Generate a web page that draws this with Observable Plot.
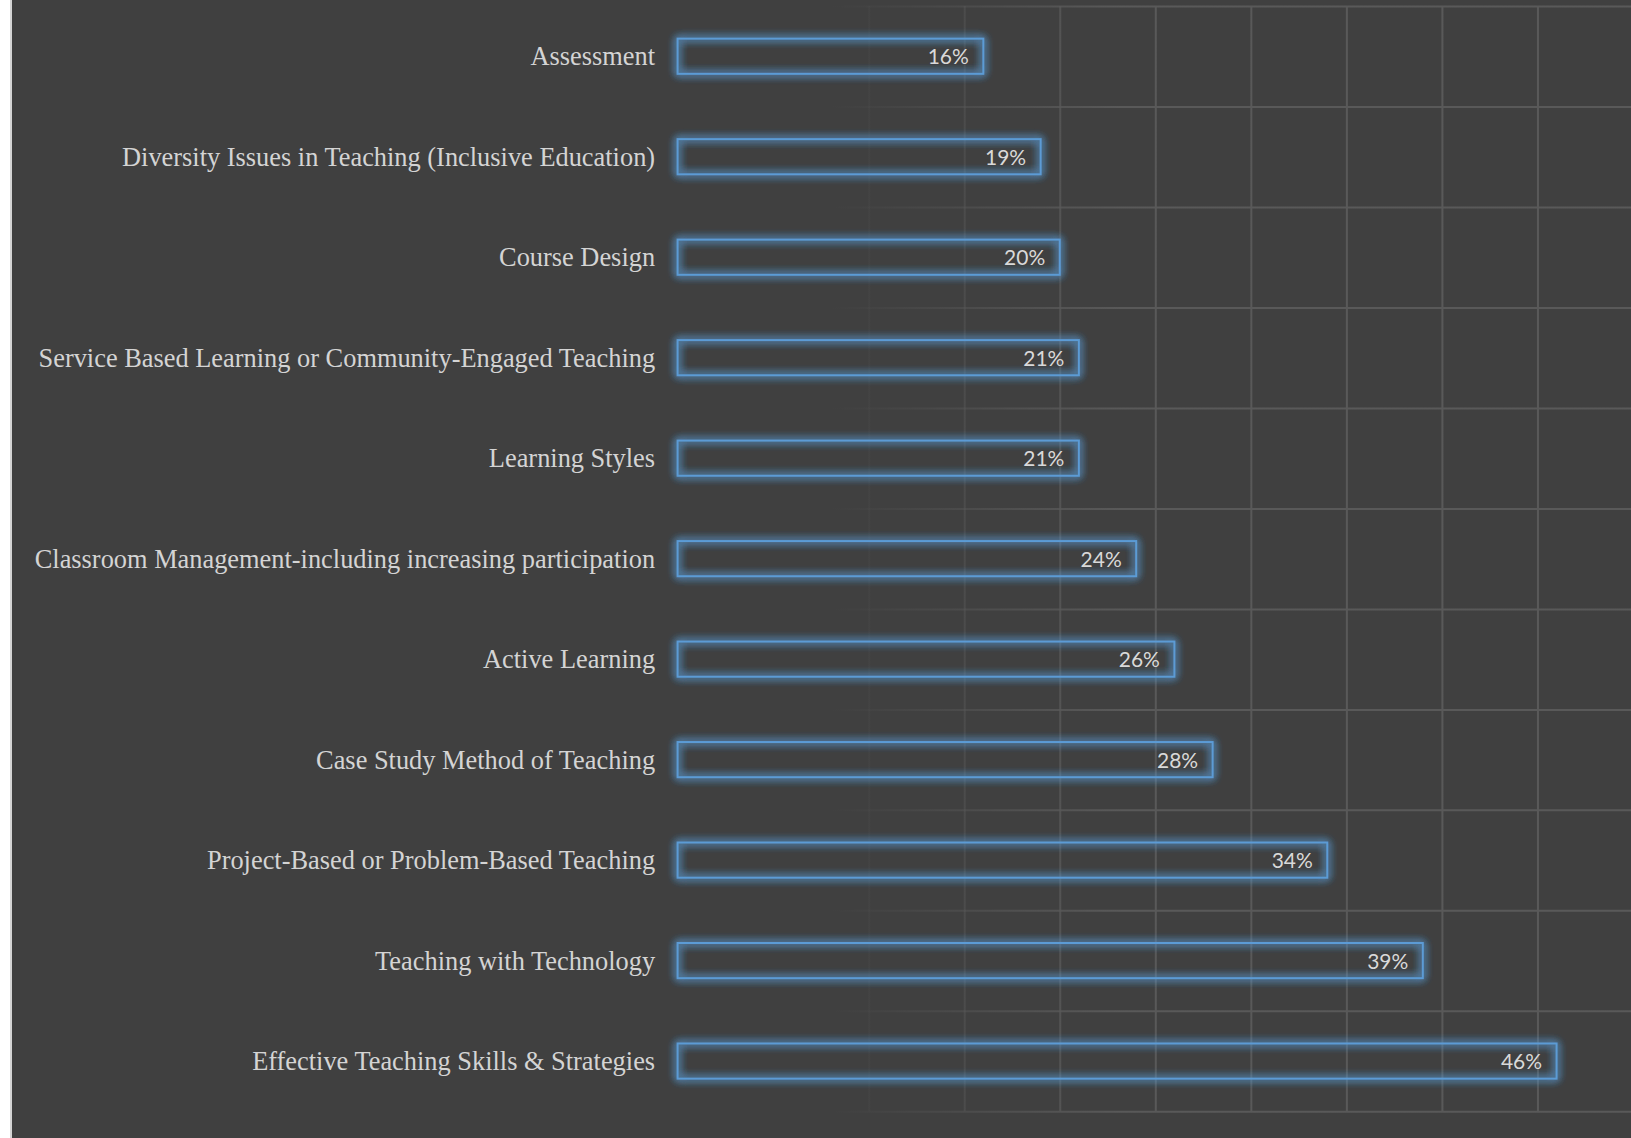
<!DOCTYPE html>
<html><head><meta charset="utf-8">
<script src="https://cdn.jsdelivr.net/npm/d3@7"></script>
<script src="https://cdn.jsdelivr.net/npm/@observablehq/plot@0.6"></script>
<style>
html,body{margin:0;padding:0;background:#fff;overflow:hidden;width:1631px;height:1138px;}
#wrap{position:absolute;left:10px;top:0;border-left:2px solid #d4d4d4;background:#404040;width:1621px;height:1138px;overflow:hidden;}
</style></head><body><div id="wrap"></div>
<script>
const topics = [
  "Assessment",
  "Diversity Issues in Teaching (Inclusive Education)",
  "Course Design",
  "Service Based Learning or Community-Engaged Teaching",
  "Learning Styles",
  "Classroom Management-including increasing participation",
  "Active Learning",
  "Case Study Method of Teaching",
  "Project-Based or Problem-Based Teaching",
  "Teaching with Technology",
  "Effective Teaching Skills & Strategies"
];
const shares = [16, 19, 20, 21, 21, 24, 26, 28, 34, 39, 46];
const xTicks = [0, 5, 10, 15, 20, 25, 30, 35, 40, 45, 50];

const data = topics.map((t, i) => ({topic: t, share: shares[i]}));
const W = 1622, H = 1138, mT = 6, mB = 26, mL = 666;
const step = (H - mT - mB) / topics.length;
const gridStyle = {stroke: "url(#fade)", strokeOpacity: 1, strokeWidth: 2};

const chart = Plot.plot({
  width: W, height: H,
  marginLeft: mL, marginRight: 0, marginTop: mT, marginBottom: mB,
  style: {background: "#404040", color: "#d4d4d4", overflow: "hidden"},
  x: {domain: [0, 50], axis: null},
  y: {domain: topics, paddingInner: 0.65, paddingOuter: 0.325, round: false, axis: null, label: null},
  marks: [
    Plot.gridX(xTicks, gridStyle),
    Plot.ruleY(topics, {y: d => d, dy: step / 2, ...gridStyle}),
    Plot.ruleY([topics[0]], {y: d => d, dy: -step / 2, ...gridStyle}),
    Plot.axisY({tickSize: 0, tickPadding: 23, fontSize: 26.4, fontFamily: "Liberation Serif", fill: "#d4d4d4", label: null}),
    Plot.barX(data, {x: "share", y: "topic", fill: "none", stroke: "#5b9bd5", strokeWidth: 2, className: "glowbars"}),
    Plot.text(data, {x: "share", y: "topic", text: d => d.share + "%", textAnchor: "end", dx: -15, dy: 1, fontSize: 21, fontFamily: "Lato", fill: "#d9d9d9"})
  ]
});

const svg = d3.select(chart);
const defs = svg.insert("defs", ":first-child");
const grad = defs.append("linearGradient").attr("id", "fade")
  .attr("gradientUnits", "userSpaceOnUse")
  .attr("x1", 820).attr("y1", 0).attr("x2", 1110).attr("y2", 0);
grad.append("stop").attr("offset", 0).attr("stop-color", "#595959").attr("stop-opacity", 0);
grad.append("stop").attr("offset", 1).attr("stop-color", "#595959").attr("stop-opacity", 1);
const f = defs.append("filter").attr("id", "glow")
  .attr("filterUnits", "userSpaceOnUse")
  .attr("x", 0).attr("y", 0).attr("width", W).attr("height", H);
f.append("feGaussianBlur").attr("in", "SourceGraphic").attr("stdDeviation", 4).attr("result", "b");
const m = f.append("feMerge");
m.append("feMergeNode").attr("in", "b");
m.append("feMergeNode").attr("in", "b");
m.append("feMergeNode").attr("in", "b");
m.append("feMergeNode").attr("in", "SourceGraphic");
svg.selectAll("g.glowbars").attr("filter", "url(#glow)");

document.getElementById("wrap").appendChild(chart);
</script>
</body></html>
